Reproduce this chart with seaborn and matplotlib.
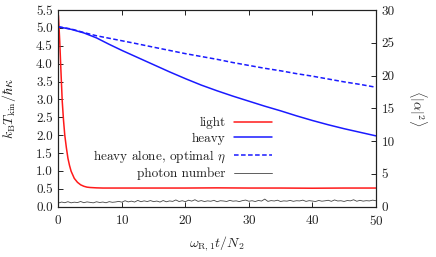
import numpy as np
import pandas as pd
import matplotlib
matplotlib.use("Agg")
import matplotlib.pyplot as plt
import seaborn as sns

# ---- data ----
t_light = [0, 0.2, 0.4, 0.6, 0.8, 1.0, 1.25, 1.5, 1.75, 2.0, 2.5, 3.0, 3.5, 4.0,
           4.5, 5, 6, 7, 8, 10, 15, 20, 25, 30, 35, 40, 45, 50]
light = [5.35, 4.65, 3.78, 2.95, 2.42, 2.00, 1.65, 1.35, 1.15, 0.99, 0.79, 0.68,
         0.61, 0.57, 0.545, 0.535, 0.525, 0.52, 0.52, 0.52, 0.52, 0.52, 0.525,
         0.52, 0.52, 0.515, 0.52, 0.52]

t_heavy = [0, 2, 4, 6, 8, 10, 12, 15, 17.5, 20, 22.5, 25, 27.5, 30, 32.5, 35,
           37.5, 40, 42.5, 45, 47.5, 50]
heavy = [5.03, 4.96, 4.86, 4.72, 4.54, 4.37, 4.21, 3.97, 3.77, 3.58, 3.40, 3.24,
         3.09, 2.95, 2.81, 2.68, 2.54, 2.41, 2.29, 2.18, 2.08, 1.98]
heavy_alone = [5.03, 4.97, 4.87, 4.78, 4.71, 4.64, 4.57, 4.46, 4.37, 4.28, 4.20,
               4.12, 4.03, 3.95, 3.87, 3.80, 3.72, 3.65, 3.57, 3.49, 3.42, 3.34]

t_photon = [i * 0.5 for i in range(101)]
photon = [0.55, 0.70, 0.60, 0.75, 0.58, 0.68, 0.62, 0.78, 0.60, 0.72,
          0.65, 0.58, 0.74, 0.63, 0.70, 0.59, 0.76, 0.66, 0.71, 0.80,
          0.68, 0.90, 0.72, 0.84, 0.70, 0.95, 0.75, 0.88, 0.78, 0.92,
          0.76, 0.85, 0.70, 0.93, 0.74, 0.87, 0.80, 1.02, 0.78, 0.90,
          0.76, 0.98, 0.84, 1.05, 0.80, 0.92, 0.78, 0.88, 0.82, 0.96,
          0.75, 0.90, 0.86, 0.79, 0.95, 0.83, 0.88, 0.77, 0.92, 1.00,
          0.82, 0.90, 0.78, 0.94, 0.85, 1.15, 0.80, 0.92, 0.86, 0.98,
          0.79, 0.88, 0.84, 0.95, 0.81, 0.90, 0.87, 0.99, 0.80, 0.91,
          0.85, 0.78, 0.94, 0.83, 0.89, 0.97, 0.81, 1.02, 0.86, 0.90,
          0.79, 0.93, 0.88, 1.05, 0.82, 0.96, 0.84, 0.91, 0.87, 0.99, 0.90]

left_ticks = [0.0, 0.5, 1.0, 1.5, 2.0, 2.5, 3.0, 3.5, 4.0, 4.5, 5.0, 5.5]
right_ticks = [0, 5, 10, 15, 20, 25, 30]
x_ticks = [0, 10, 20, 30, 40, 50]
labels = ["light", "heavy", r"heavy alone, optimal $\eta$", "photon number"]

# ---- style ----
sns.set_theme(style="ticks")
plt.rcParams["font.family"] = ["cmr10", "DejaVu Serif"]
plt.rcParams["mathtext.fontset"] = "cm"
plt.rcParams["axes.formatter.use_mathtext"] = True
plt.rcParams["axes.unicode_minus"] = False
FS = 9.5

fig = plt.figure(figsize=(4.36, 2.57), dpi=100)
ax = fig.add_subplot(111)
fig.subplots_adjust(left=0.134, right=0.862, top=0.961, bottom=0.196)
ax2 = ax.twinx()

df_l = pd.DataFrame({"t": t_light, "v": light})
df_h = pd.DataFrame({"t": t_heavy, "v": heavy, "va": heavy_alone})
df_p = pd.DataFrame({"t": t_photon, "n": photon})

sns.lineplot(data=df_l, x="t", y="v", ax=ax, color="#ff1a1a", linewidth=1.1,
             label=labels[0], legend=False)
sns.lineplot(data=df_h, x="t", y="v", ax=ax, color="#1a1aff", linewidth=1.1,
             label=labels[1], legend=False)
sns.lineplot(data=df_h, x="t", y="va", ax=ax, color="#1a1aff", linewidth=1.1,
             linestyle=(0, (3, 1.6)), label=labels[2], legend=False)
sns.lineplot(data=df_p, x="t", y="n", ax=ax2, color="#444444", linewidth=0.6,
             label=labels[3], legend=False)

ax.set_xlim(0, 50)
ax.set_ylim(0, 5.5)
ax2.set_ylim(0, 30)
ax.set_xticks(x_ticks)
ax.set_yticks(left_ticks)
ax.set_yticklabels([f"{v:.1f}" for v in left_ticks])
ax2.set_yticks(right_ticks)
ax2.set_yticklabels([str(v) for v in right_ticks])

ax.tick_params(axis="both", direction="in", length=3.5, width=0.7,
               labelsize=FS, top=True, right=False, pad=4, colors="#222222")
ax.tick_params(axis="x", pad=5)
ax2.tick_params(axis="y", direction="in", length=3.5, width=0.7,
                labelsize=FS, pad=4, colors="#222222")
for a in (ax, ax2):
    for s in a.spines.values():
        s.set_linewidth(0.8)
        s.set_color("#222222")

ax.set_xlabel(r"$\omega_{\mathrm{R},1}t/N_2$", fontsize=FS + 0.5, labelpad=5)
ax.set_ylabel(r"$k_\mathrm{B}T_\mathrm{kin}/\hbar\kappa$", fontsize=FS + 0.5,
              labelpad=13)
ax2.set_ylabel(r"$\langle|\alpha|^2\rangle$", fontsize=FS + 0.5, rotation=270,
               va="bottom", labelpad=9)
ax.xaxis.label.set_color("#222222")
ax.yaxis.label.set_color("#222222")
ax2.yaxis.label.set_color("#222222")

h1, l1 = ax.get_legend_handles_labels()
h2, l2 = ax2.get_legend_handles_labels()
leg = ax2.legend(h1 + h2, l1 + l2, loc="upper right",
                 bbox_to_anchor=(0.673, 0.455), frameon=False, fontsize=FS,
                 markerfirst=False, handlelength=2.9, handletextpad=0.6,
                 labelspacing=0.25, borderpad=0, borderaxespad=0)
for col in leg._legend_handle_box.get_children():
    col.align = "right"
for t in leg.get_texts():
    t.set_color("#222222")

fig.savefig("out.png", dpi=100)
